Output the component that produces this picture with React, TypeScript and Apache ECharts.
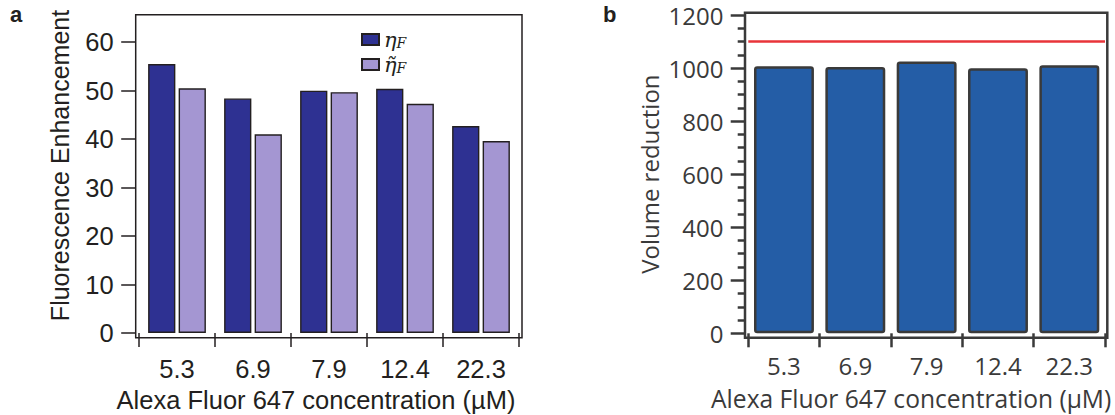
import React, { useEffect, useRef } from "react";
import * as echarts from "echarts";

const categories = ["5.3", "6.9", "7.9", "12.4", "22.3"];
const etaF = [55.5, 48.4, 50.0, 50.4, 42.7];
const etaFTilde = [50.5, 41.0, 49.7, 47.3, 39.6];
const volumeReduction = [1007, 1004, 1025, 999, 1011];
const referenceLine = 1100;
const yTicksA = [0, 10, 20, 30, 40, 50, 60];

const GA = { left: 139, top: 18, width: 380, height: 315 };
const GB = { left: 748.3, top: 15, width: 356.7, height: 318.3 };

const fontA = "'Liberation Sans', Arial, sans-serif";
const fontB = "'Open Sans', 'Noto Sans', sans-serif";
const inkA = "#231f20";
const inkB = "#3a3a3a";

export default function App() {
  const ref = useRef<HTMLDivElement>(null);
  useEffect(() => {
    if (!ref.current) return;
    const chart = echarts.init(ref.current, null, { renderer: "svg" });
    const option: any = {
      animation: false,
      backgroundColor: "#ffffff",
      grid: [
        { left: GA.left, top: GA.top, width: GA.width, height: GA.height, containLabel: false, outerBoundsMode: "none" },
        { left: GB.left, top: GB.top, width: GB.width, height: GB.height, containLabel: false, outerBoundsMode: "none" },
      ],
      legend: {
        orient: "vertical",
        left: 356,
        top: 24,
        itemWidth: 17,
        itemHeight: 11,
        itemGap: 4,
        icon: "rect",
        data: ["ηF", "η̃F"],
        formatter: (name: string) =>
          name === "ηF" ? "{i|η}{s|F}" : "{i|η̃}{s|F}",
        textStyle: {
          color: inkA,
          fontSize: 21,
          fontFamily: "'DejaVu Serif', serif",
          fontStyle: "italic",
          lineHeight: 21,
          rich: {
            i: {
              fontFamily: "'DejaVu Serif', serif",
              fontStyle: "italic",
              fontSize: 21,
              color: inkA,
              lineHeight: 21,
            },
            s: {
              fontFamily: "'DejaVu Serif', serif",
              fontStyle: "italic",
              fontSize: 14,
              color: inkA,
              lineHeight: 10,
              verticalAlign: "bottom",
            },
          },
        },
      },
      xAxis: [
        {
          type: "category",
          gridIndex: 0,
          data: categories,
          offset: 4.7,
          axisLine: { show: false },
          axisTick: { show: true, length: 14, interval: 0, lineStyle: { color: inkA, width: 1.5 } },
          axisLabel: { color: inkA, fontFamily: fontA, fontSize: 25.5, lineHeight: 26, margin: 18, interval: 0 },
          name: "Alexa Fluor 647 concentration (µM)",
          nameLocation: "middle",
          nameGap: 47,
          nameTextStyle: {
            color: inkA,
            fontFamily: fontA,
            fontSize: 25.5,
            lineHeight: 26,
            padding: [0, 26, 0, 0],
          },
        },
        {
          type: "category",
          gridIndex: 1,
          data: categories,
          offset: 4.4,
          axisLine: { show: false },
          axisTick: { show: true, length: 14, interval: 0, lineStyle: { color: inkB, width: 2.5 } },
          axisLabel: { color: inkB, fontFamily: fontB, fontSize: 24, lineHeight: 24, margin: 16, interval: 0 },
          name: "Alexa Fluor 647 concentration (µM)",
          nameLocation: "middle",
          nameGap: 49,
          nameTextStyle: {
            color: inkB,
            fontFamily: fontB,
            fontSize: 24.6,
            lineHeight: 24,
            padding: [0, 31, 0, 0],
          },
        },
      ],
      yAxis: [
        {
          type: "value",
          gridIndex: 0,
          min: 0,
          max: 65,
          offset: 3.3,
          splitLine: { show: false },
          axisLine: { show: false },
          axisTick: {
            show: true,
            length: 14.5,
            customValues: yTicksA,
            lineStyle: { color: inkA, width: 1.5 },
          },
          axisLabel: {
            color: inkA,
            fontFamily: fontA,
            fontSize: 25.5,
            margin: 22,
            customValues: yTicksA,
          },
          name: "Fluorescence Enhancement",
          nameLocation: "middle",
          nameGap: 63,
          nameTextStyle: {
            color: inkA,
            fontFamily: fontA,
            fontSize: 25,
            padding: [0, 0, 0, 20],
          },
        },
        {
          type: "value",
          gridIndex: 1,
          min: 0,
          max: 1200,
          interval: 200,
          offset: 3.3,
          splitLine: { show: false },
          axisLine: { show: false },
          axisTick: { show: true, length: 14.3, lineStyle: { color: inkB, width: 2.5 } },
          minorTick: { show: true, splitNumber: 4, length: 7.3, lineStyle: { color: inkB, width: 2.5 } },
          axisLabel: {
            color: inkB,
            fontFamily: fontB,
            fontSize: 24,
            margin: 21.5,
            formatter: (v: number) => String(v),
          },
          name: "Volume reduction",
          nameLocation: "middle",
          nameGap: 84,
          nameTextStyle: { color: inkB, fontFamily: fontB, fontSize: 24 },
        },
      ],
      series: [
        {
          name: "ηF",
          type: "bar",
          xAxisIndex: 0,
          yAxisIndex: 0,
          data: etaF,
          barCategoryGap: "24%",
          barGap: "12%",
          itemStyle: { color: "#2e3192", borderColor: inkA, borderWidth: 1.4 },
        },
        {
          name: "η̃F",
          type: "bar",
          xAxisIndex: 0,
          yAxisIndex: 0,
          data: etaFTilde,
          barCategoryGap: "24%",
          barGap: "12%",
          itemStyle: { color: "#a496d2", borderColor: inkA, borderWidth: 1.4 },
        },
        {
          name: "Volume reduction",
          type: "bar",
          xAxisIndex: 1,
          yAxisIndex: 1,
          data: volumeReduction,
          barCategoryGap: "16%",
          itemStyle: { color: "#245da6", borderColor: inkB, borderWidth: 2.5, borderRadius: 2 },
          markLine: {
            silent: true,
            symbol: "none",
            label: { show: false },
            lineStyle: { color: "#e8343a", width: 2.5, type: "solid" },
            data: [{ yAxis: referenceLine }],
          },
        },
      ],
      graphic: [
        {
          type: "rect",
          shape: { x: GA.left - 3.3, y: GA.top - 3.3, width: GA.width + 6.3, height: GA.height + 8 },
          style: { fill: "none", stroke: inkA, lineWidth: 1.5 },
          silent: true,
          z: 10,
        },
        {
          type: "rect",
          shape: { x: GB.left - 3.3, y: GB.top - 2.3, width: GB.width + 5.6, height: GB.height + 6.7 },
          style: { fill: "none", stroke: inkB, lineWidth: 2.5 },
          silent: true,
          z: 10,
        },
        {
          type: "text",
          left: 10,
          top: 3,
          style: { text: "a", fontFamily: fontA, fontWeight: "bold", fontSize: 22, fill: inkA },
        },
        {
          type: "text",
          left: 603,
          top: 3,
          style: { text: "b", fontFamily: fontA, fontWeight: "bold", fontSize: 22, fill: inkA },
        },
      ],
    };
    chart.setOption(option);
    return () => chart.dispose();
  }, []);
  return (
    <div
      ref={ref}
      style={{ position: "fixed", left: 0, top: 0, width: 1115, height: 415 }}
    />
  );
}
